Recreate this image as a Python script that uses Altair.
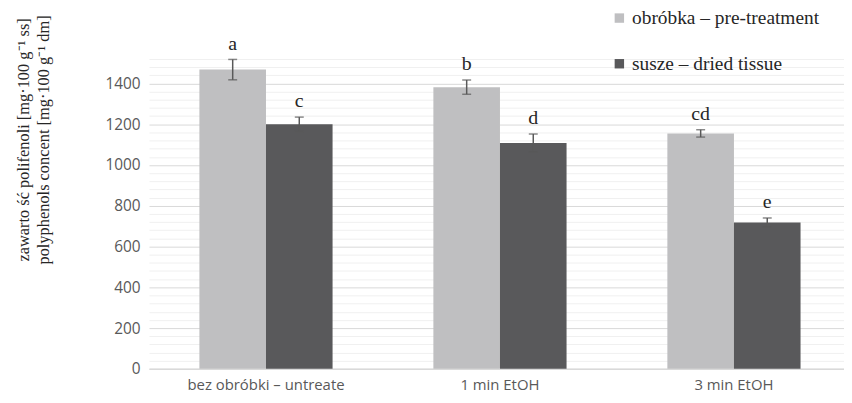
import altair as alt
import pandas as pd

categories = ["bez obróbki – untreate", "1 min EtOH", "3 min EtOH"]
series = ["obróbka – pre-treatment", "susze – dried tissue"]
pre_values = [1468, 1382, 1155]
pre_errors = [50, 35, 18]
dried_values = [1200, 1108, 718]
dried_errors = [35, 44, 22]
pre_letters = ["a", "b", "cd"]
dried_letters = ["c", "d", "e"]
y_ticks = list(range(0, 1521, 40))

rows = []
for i, c in enumerate(categories):
    rows.append(dict(cat=c, series=series[0], v=pre_values[i], e=pre_errors[i], lab=pre_letters[i]))
    rows.append(dict(cat=c, series=series[1], v=dried_values[i], e=dried_errors[i], lab=dried_letters[i]))
df = pd.DataFrame(rows)
df["lo"] = df["v"] - df["e"]
df["hi"] = df["v"] + df["e"]

colors = ["#BFBFC1", "#59595B"]

xenc = alt.X("cat:N", sort=categories,
             scale=alt.Scale(range=[0, 707], paddingInner=0, paddingOuter=0),
             axis=alt.Axis(title=None, labelAngle=0, ticks=False, domainColor="#d9d9d9",
                           domainWidth=1.5, labelFont="Open Sans", labelFontSize=15,
                           labelColor="#595959", labelPadding=9, labelLimit=400))
xoff = alt.XOffset("series:N", sort=series,
                   scale=alt.Scale(paddingInner=0, paddingOuter=0.757))
yscale = alt.Scale(domain=[0, 1520], nice=False)

base = alt.Chart(df)

bars = base.mark_bar().encode(
    x=xenc,
    xOffset=xoff,
    y=alt.Y("v:Q", scale=yscale,
            axis=alt.Axis(values=y_ticks, tickCount=len(y_ticks), ticks=False, domain=False,
                          format="d",
                          labelExpr="datum.value % 200 === 0 ? datum.label : ''",
                          labelFont="Open Sans", labelFontSize=15.5, labelColor="#595959",
                          labelPadding=9,
                          gridColor=alt.condition("datum.value % 200 === 0",
                                                  alt.value("#d9d9d9"), alt.value("#f0f0f0")),
                          gridWidth=1,
                          title=["zawarto ść polifenoli [mg·100 g⁻¹ ss]",
                                 "polyphenols concent [mg·100 g⁻¹ dm]"],
                          titleFont="Liberation Serif", titleFontSize=16.5,
                          titleFontWeight="normal", titleColor="#262626",
                          titleAngle=-90, titleBaseline="top", titleAlign="center",
                          titleLineHeight=20, titleX=-134, titleY=81)),
    color=alt.Color("series:N", sort=series,
                    scale=alt.Scale(domain=series, range=colors),
                    legend=alt.Legend(title=None, orient="none", legendX=464, legendY=-51,
                                      symbolType="square", symbolSize=90, symbolStrokeWidth=0,
                                      labelFont="Liberation Serif", labelFontSize=19.5,
                                      labelLimit=400,
                                      labelColor="#262626", rowPadding=25, labelOffset=3)),
)

rules = base.mark_rule(color="#595959", strokeWidth=1.5).encode(
    x=alt.X("cat:N", sort=categories), xOffset=xoff,
    y=alt.Y("lo:Q", scale=yscale), y2="hi:Q")

cap_lo = base.mark_tick(color="#595959", thickness=1.5, size=9).encode(
    x=alt.X("cat:N", sort=categories), xOffset=xoff, y=alt.Y("lo:Q", scale=yscale))
cap_hi = base.mark_tick(color="#595959", thickness=1.5, size=9).encode(
    x=alt.X("cat:N", sort=categories), xOffset=xoff, y=alt.Y("hi:Q", scale=yscale))

letters = base.mark_text(font="Liberation Serif", fontSize=20, color="#262626",
                         baseline="alphabetic", dy=-10).encode(
    x=alt.X("cat:N", sort=categories), xOffset=xoff,
    y=alt.Y("hi:Q", scale=yscale), text="lab:N")

chart = alt.layer(bars, rules, cap_lo, cap_hi, letters).properties(
    width=700, height=312,
    autosize=alt.AutoSizeParams(type="none"),
    padding={"left": 142, "top": 50, "right": 0, "bottom": 25},
).configure_view(stroke=None).configure_axis(labelOverlap=False)

chart.save("out.html", embed_options={"renderer": "svg", "actions": False})
